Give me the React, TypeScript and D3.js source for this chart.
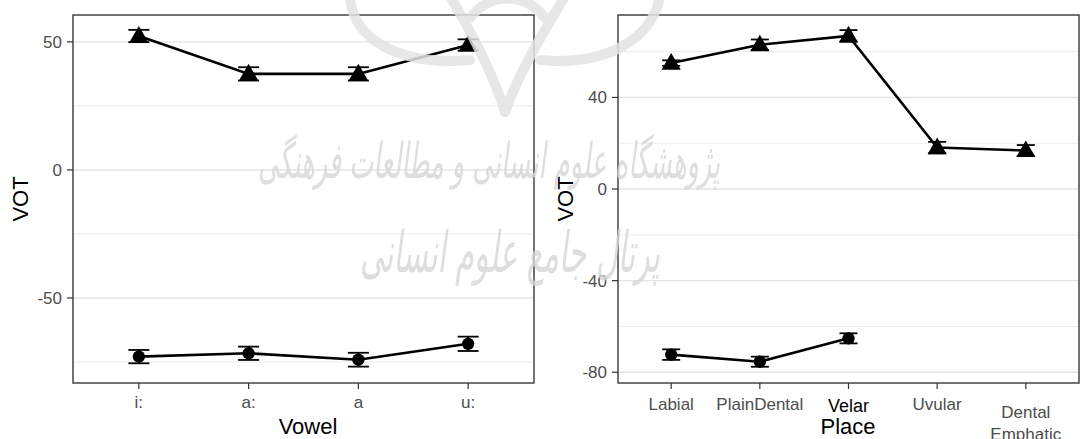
import React from "react";
import * as d3 from "d3";

// Vowel panel
const vowels = ["i:", "a:", "a", "u:"];
const vowelAspirated = [52.3, 37.5, 37.5, 48.8];
const vowelAspiratedSE = [2.4, 2.6, 2.6, 2.2];
const vowelPrevoiced = [-72.9, -71.6, -74.1, -67.9];
const vowelPrevoicedSE = [2.6, 2.6, 2.7, 2.8];
const vowelMajorTicks = [-50, 0, 50];
const vowelMinorTicks = [-75, -25, 25];

// Place panel
const places = ["Labial", "PlainDental", "Velar", "Uvular", "Dental\nEmphatic"];
const placeAspirated = [55.0, 63.0, 66.9, 18.1, 16.8];
const placeAspiratedSE = [1.2, 2.3, 2.5, 2.5, 2.4];
const placePrevoiced = [-72.3, -75.4, -65.2];
const placePrevoicedSE = [2.3, 2.2, 2.2];
const placeMajorTicks = [-80, -40, 0, 40];
const placeMinorTicks = [-60, -20, 20, 60];

// Institute watermark lines
const watermarkLines = ["پژوهشگاه علوم انسانی و مطالعات فرهنگی", "پرتال جامع علوم انسانی"];

const FONT = "'Liberation Sans', Arial, sans-serif";
const TICK_COLOR = "#4d4d4d";

type PanelProps = {
  left: number;
  right: number;
  top: number;
  bottom: number;
  cats: string[];
  yDomain: [number, number];
  major: number[];
  minor: number[];
  upper: number[];
  upperSE: number[];
  lower: number[];
  lowerSE: number[];
  capWidth: number;
  xTitle: string;
  xTitleX: number;
  xTitleY: number;
  yTitleX: number;
  tickLabelY: number;
  highlight?: string;
};

function Panel(p: PanelProps) {
  const x = d3
    .scalePoint<string>()
    .domain(p.cats)
    .range([p.left, p.right])
    .padding(0.6);
  const y = d3.scaleLinear().domain(p.yDomain).range([p.bottom, p.top]);
  const line = d3
    .line<number>()
    .x((_, i) => x(p.cats[i]) as number)
    .y((d) => y(d));

  const tri = d3.symbol().type(d3.symbolTriangle).size(160)();
  const circ = d3.symbol().type(d3.symbolCircle).size(120)();

  const errorBars = (vals: number[], se: number[], key: string) =>
    vals.map((v, i) => {
      const cx = x(p.cats[i]) as number;
      const hw = p.capWidth / 2;
      return (
        <g key={key + i} stroke="#000" strokeWidth={1.8}>
          <line x1={cx} x2={cx} y1={y(v + se[i])} y2={y(v - se[i])} />
          <line x1={cx - hw} x2={cx + hw} y1={y(v + se[i])} y2={y(v + se[i])} />
          <line x1={cx - hw} x2={cx + hw} y1={y(v - se[i])} y2={y(v - se[i])} />
        </g>
      );
    });

  return (
    <g fontFamily={FONT}>
      <rect x={p.left} y={p.top} width={p.right - p.left} height={p.bottom - p.top} fill="#fff" />
      {p.minor.map((t) => (
        <line key={"mi" + t} x1={p.left} x2={p.right} y1={y(t)} y2={y(t)} stroke="#ebecef" strokeWidth={1} />
      ))}
      {p.major.map((t) => (
        <line key={"ma" + t} x1={p.left} x2={p.right} y1={y(t)} y2={y(t)} stroke="#e2e4e9" strokeWidth={1.4} />
      ))}

      <path d={line(p.upper) ?? ""} fill="none" stroke="#000" strokeWidth={2.6} />
      <path d={line(p.lower) ?? ""} fill="none" stroke="#000" strokeWidth={2.6} />
      {errorBars(p.upper, p.upperSE, "u")}
      {errorBars(p.lower, p.lowerSE, "l")}
      {p.upper.map((v, i) => (
        <path key={"t" + i} d={tri ?? ""} transform={`translate(${x(p.cats[i])},${y(v) + 1})`} fill="#000" />
      ))}
      {p.lower.map((v, i) => (
        <path key={"c" + i} d={circ ?? ""} transform={`translate(${x(p.cats[i])},${y(v)})`} fill="#000" />
      ))}

      <rect
        x={p.left}
        y={p.top}
        width={p.right - p.left}
        height={p.bottom - p.top}
        fill="none"
        stroke="#444"
        strokeWidth={1.5}
      />

      {/* y axis */}
      {p.major.map((t) => (
        <g key={"yt" + t}>
          <line x1={p.left - 6} x2={p.left} y1={y(t)} y2={y(t)} stroke="#333" strokeWidth={1.2} />
          <text x={p.left - 11} y={y(t)} dy="0.35em" textAnchor="end" fontSize={17} fill={TICK_COLOR}>
            {t}
          </text>
        </g>
      ))}
      <text
        transform={`translate(${p.yTitleX},${(p.top + p.bottom) / 2}) rotate(-90)`}
        textAnchor="middle"
        fontSize={22}
        fill="#000"
      >
        VOT
      </text>

      {/* x axis */}
      {p.cats.map((c) => {
        const cx = x(c) as number;
        const parts = c.split("\n");
        const hl = c === p.highlight;
        return (
          <g key={"xt" + c}>
            <line x1={cx} x2={cx} y1={p.bottom} y2={p.bottom + 6} stroke="#333" strokeWidth={1.2} />
            {parts.length === 1 ? (
              <text
                x={cx}
                y={p.tickLabelY + (hl ? 2 : 0)}
                textAnchor="middle"
                fontSize={hl ? 18 : 17}
                fill={hl ? "#000" : TICK_COLOR}
              >
                {c}
              </text>
            ) : (
              parts.map((s, k) => (
                <text
                  key={k}
                  x={cx}
                  y={p.tickLabelY + 8 + k * 22}
                  textAnchor="middle"
                  fontSize={17}
                  fill={TICK_COLOR}
                >
                  {s}
                </text>
              ))
            )}
          </g>
        );
      })}
      <text x={p.xTitleX} y={p.xTitleY} textAnchor="middle" fontSize={22} fill="#000">
        {p.xTitle}
      </text>
    </g>
  );
}

function Watermark() {
  const stroke = "#e3e3e3";
  return (
    <g pointerEvents="none">
      <g fill="none" stroke={stroke} strokeWidth={10} strokeLinecap="round" opacity={0.85}>
        <path d="M 350 -4 C 352 40, 400 66, 470 60" />
        <path d="M 450 -4 C 470 30, 492 70, 505 112" />
        <path d="M 565 -4 C 545 30, 520 70, 505 112" />
        <path d="M 660 -4 C 652 40, 606 66, 540 60" />
        <path d="M 470 18 C 490 -8, 525 -8, 545 18" />
      </g>
      <g fontFamily="'DejaVu Sans', sans-serif" fill="#d6d6d6" fontStyle="italic" opacity={0.8}>
        <g transform="translate(489,178) scale(1,1.9)">
          <text x={0} y={0} fontSize={26} textAnchor="middle" textLength={462} lengthAdjust="spacingAndGlyphs">
            {watermarkLines[0]}
          </text>
        </g>
        <g transform="translate(510,272) scale(1,1.9)">
          <text x={0} y={0} fontSize={30} textAnchor="middle" textLength={300} lengthAdjust="spacingAndGlyphs">
            {watermarkLines[1]}
          </text>
        </g>
      </g>
    </g>
  );
}

export default function App() {
  return (
    <svg
      width={1088}
      height={439}
      viewBox="0 0 1088 439"
      style={{ position: "absolute", left: 0, top: 0, background: "#fff" }}
    >
      <rect width={1088} height={439} fill="#fff" />
      <Panel
        left={73}
        right={534}
        top={15}
        bottom={383}
        cats={vowels}
        yDomain={[-83.2, 60.5]}
        major={vowelMajorTicks}
        minor={vowelMinorTicks}
        upper={vowelAspirated}
        upperSE={vowelAspiratedSE}
        lower={vowelPrevoiced}
        lowerSE={vowelPrevoicedSE}
        capWidth={21}
        xTitle="Vowel"
        xTitleX={308}
        xTitleY={434}
        yTitleX={28}
        tickLabelY={408}
      />
      <Panel
        left={618}
        right={1079}
        top={15}
        bottom={383}
        cats={places}
        yDomain={[-84.7, 76]}
        major={placeMajorTicks}
        minor={placeMinorTicks}
        upper={placeAspirated}
        upperSE={placeAspiratedSE}
        lower={placePrevoiced}
        lowerSE={placePrevoicedSE}
        capWidth={18}
        xTitle="Place"
        xTitleX={848}
        xTitleY={434}
        yTitleX={573}
        tickLabelY={410}
        highlight="Velar"
      />
      <Watermark />
    </svg>
  );
}
